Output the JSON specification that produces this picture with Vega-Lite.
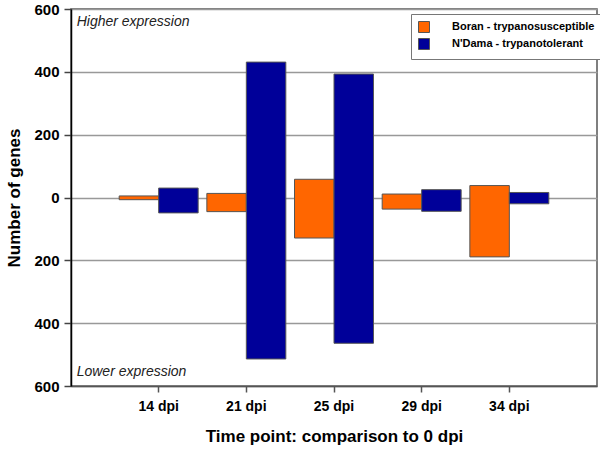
{
  "$schema": "https://vega.github.io/schema/vega-lite/v6.json",
  "width": 526,
  "height": 377,
  "autosize": {"type": "none"},
  "padding": {"left": 71, "top": 9, "right": 3, "bottom": 64},
  "background": "white",
  "config": {
    "font": "Liberation Sans",
    "view": {"stroke": "#555", "strokeWidth": 1.5}
  },
  "layer": [
    {
      "data": {
        "values": [
          {"time": "14 dpi", "breed": "Boran - trypanosusceptible", "up": 5, "down": -7},
          {"time": "14 dpi", "breed": "N'Dama - trypanotolerant", "up": 30, "down": -49},
          {"time": "21 dpi", "breed": "Boran - trypanosusceptible", "up": 13, "down": -45},
          {"time": "21 dpi", "breed": "N'Dama - trypanotolerant", "up": 431, "down": -514},
          {"time": "25 dpi", "breed": "Boran - trypanosusceptible", "up": 58, "down": -129},
          {"time": "25 dpi", "breed": "N'Dama - trypanotolerant", "up": 393, "down": -464},
          {"time": "29 dpi", "breed": "Boran - trypanosusceptible", "up": 11, "down": -37},
          {"time": "29 dpi", "breed": "N'Dama - trypanotolerant", "up": 25, "down": -44},
          {"time": "34 dpi", "breed": "Boran - trypanosusceptible", "up": 38, "down": -189},
          {"time": "34 dpi", "breed": "N'Dama - trypanotolerant", "up": 16, "down": -20}
        ]
      },
      "mark": {"type": "bar", "stroke": "#555", "strokeWidth": 1},
      "encoding": {
        "x": {
          "field": "time",
          "type": "nominal",
          "sort": null,
          "scale": {"paddingInner": 0, "paddingOuter": 0.5},
          "axis": {
            "title": "Time point: comparison to 0 dpi",
            "titleFontSize": 17,
            "titleFontWeight": "bold",
            "titleColor": "black",
            "titlePadding": 15,
            "labelAngle": 0,
            "labelFontSize": 14,
            "labelFontWeight": "bold",
            "labelColor": "black",
            "labelPadding": 7,
            "domainColor": "#555",
            "domainWidth": 1.5,
            "tickColor": "#555",
            "tickSize": 6,
            "tickWidth": 1.5,
            "grid": false
          }
        },
        "xOffset": {
          "field": "breed",
          "type": "nominal",
          "scale": {"paddingInner": 0, "paddingOuter": 0.11}
        },
        "y": {
          "field": "up",
          "type": "quantitative",
          "scale": {"domain": [-600, 600], "nice": false},
          "axis": {
            "title": "Number of genes",
            "titleFontSize": 17,
            "titleFontWeight": "bold",
            "titleColor": "black",
            "titlePadding": 10,
            "values": [-600, -500, -400, -300, -200, -100, 0, 100, 200, 300, 400, 500, 600],
            "labelExpr": "abs(datum.value) % 200 === 0 ? format(abs(datum.value), 'd') : ''",
            "labelFontSize": 15,
            "labelFontWeight": "bold",
            "labelColor": "black",
            "labelPadding": 5,
            "domainColor": "black",
            "domainWidth": 1.5,
            "tickColor": "#444",
            "tickSize": 7,
            "tickWidth": 1.5,
            "tickOpacity": {"condition": {"test": "abs(datum.value) % 200 === 0", "value": 1}, "value": 0},
            "grid": true,
            "gridColor": {"condition": {"test": "abs(datum.value) % 200 === 0", "value": "#999"}, "value": "#ddd"},
            "gridWidth": {"condition": {"test": "abs(datum.value) % 200 === 0", "value": 1.5}, "value": 1}
          }
        },
        "y2": {"field": "down"},
        "color": {
          "field": "breed",
          "type": "nominal",
          "scale": {
            "domain": ["Boran - trypanosusceptible", "N'Dama - trypanotolerant"],
            "range": ["#FF6600", "#000099"]
          },
          "legend": {
            "title": null,
            "orient": "none",
            "legendX": 340,
            "legendY": 5,
            "direction": "vertical",
            "fillColor": "white",
            "strokeColor": "#777",
            "padding": 7,
            "symbolType": "square",
            "symbolSize": 121,
            "symbolStrokeColor": "#555",
            "symbolStrokeWidth": 1,
            "labelFontSize": 11,
            "labelFontWeight": "bold",
            "labelColor": "black",
            "labelOffset": 22,
            "rowPadding": 1
          }
        }
      }
    },
    {
      "mark": {"type": "rule", "color": "black", "strokeWidth": 2},
      "encoding": {"y": {"datum": 0, "type": "quantitative"}}
    },
    {
      "data": {
        "values": [
          {"t": "Higher expression", "v": 558, "time": "14 dpi"},
          {"t": "Lower expression", "v": -555, "time": "14 dpi"}
        ]
      },
      "mark": {"type": "text", "align": "left", "baseline": "middle", "dx": -82, "fontSize": 14, "fontStyle": "italic", "color": "#222"},
      "encoding": {
        "x": {"field": "time", "type": "nominal"},
        "y": {"field": "v", "type": "quantitative"},
        "text": {"field": "t"}
      }
    }
  ]
}
